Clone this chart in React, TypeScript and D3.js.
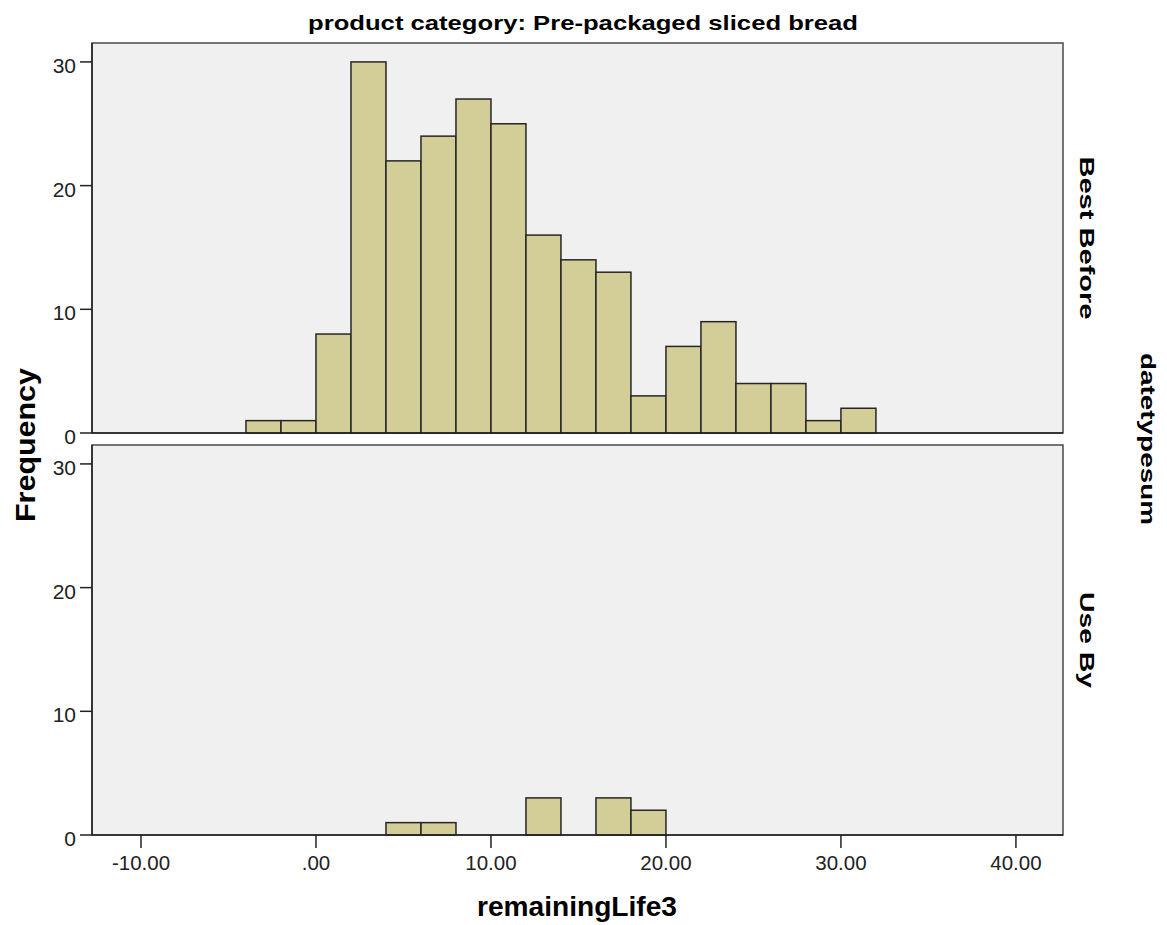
import React from "react";
import * as d3 from "d3";

// Histogram bins of remainingLife3 (lower edge of each 2-unit bin)
const binStarts = [-4, -2, 0, 2, 4, 6, 8, 10, 12, 14, 16, 18, 20, 22, 24, 26, 28, 30];
const binWidth = 2;

// Frequencies per bin for each datetypesum panel
const bestBeforeCounts = [1, 1, 8, 30, 22, 24, 27, 25, 16, 14, 13, 3, 7, 9, 4, 4, 1, 2];
const useByCounts = [0, 0, 0, 0, 1, 1, 0, 0, 3, 0, 3, 2, 0, 0, 0, 0, 0, 0];

const xTicks = [-10, 0, 10, 20, 30, 40];
const yTicks = [0, 10, 20, 30];

const panels = [
  { label: "Best Before", counts: bestBeforeCounts, top: 43, bottom: 433, labelLen: 163 },
  { label: "Use By", counts: useByCounts, top: 445, bottom: 835, labelLen: 96 },
];

const W = 1167;
const H = 925;
const LEFT = 92;
const RIGHT = 1063;

// SPSS-style labels: ".00" for zero, ASCII hyphen for negatives
const fmtX = (v: number) => (v === 0 ? ".00" : (v < 0 ? "-" : "") + Math.abs(v).toFixed(2));

export default function App() {
  const x = d3.scaleLinear().domain([-12.8, 42.69]).range([LEFT, RIGHT]);
  const font = "'Liberation Sans', Arial, sans-serif";

  return (
    <svg
      width={W}
      height={H}
      style={{ position: "absolute", left: 0, top: 0, background: "#fff" }}
      fontFamily={font}
    >
      <text x={308} y={30} fontSize={21} fontWeight="bold" textLength={550} lengthAdjust="spacingAndGlyphs">
        product category: Pre-packaged sliced bread
      </text>

      {panels.map((p, pi) => {
        const y = d3.scaleLinear().domain([0, 31.53]).range([p.bottom, p.top]);
        const mid = (p.top + p.bottom) / 2;
        return (
          <g key={pi}>
            <rect
              x={LEFT}
              y={p.top}
              width={RIGHT - LEFT}
              height={p.bottom - p.top}
              fill="#f0f0f0"
              stroke="#4a4a4a"
              strokeWidth={1.5}
            />
            {p.counts.map((c, i) =>
              c > 0 ? (
                <rect
                  key={i}
                  x={x(binStarts[i])}
                  y={y(c)}
                  width={x(binStarts[i] + binWidth) - x(binStarts[i])}
                  height={y(0) - y(c)}
                  fill="#d3ce97"
                  stroke="#262626"
                  strokeWidth={1.5}
                />
              ) : null
            )}
            {/* axis lines */}
            <line x1={LEFT} x2={LEFT} y1={p.top} y2={p.bottom} stroke="#222" strokeWidth={1.5} />
            <line x1={LEFT} x2={RIGHT} y1={p.bottom} y2={p.bottom} stroke="#222" strokeWidth={1.5} />
            {yTicks.map((t) => (
              <g key={t}>
                <line x1={LEFT - 12} x2={LEFT} y1={y(t)} y2={y(t)} stroke="#222" strokeWidth={1.5} />
                <text x={76} y={y(t) + 11} fontSize={21} textAnchor="end" fill="#222">
                  {t}
                </text>
              </g>
            ))}
            <text
              transform={`translate(1080,${mid}) rotate(90)`}
              fontSize={21}
              fontWeight="bold"
              textAnchor="middle"
              textLength={p.labelLen}
              lengthAdjust="spacingAndGlyphs"
            >
              {p.label}
            </text>
          </g>
        );
      })}

      {xTicks.map((t) => (
        <g key={t}>
          <line x1={x(t)} x2={x(t)} y1={835} y2={848} stroke="#222" strokeWidth={1.5} />
          <text x={x(t)} y={870} fontSize={20.5} textAnchor="middle" fill="#222">
            {fmtX(t)}
          </text>
        </g>
      ))}

      <text x={477} y={916} fontSize={28.5} fontWeight="bold" textLength={200} lengthAdjust="spacingAndGlyphs">
        remainingLife3
      </text>
      <text
        transform="translate(35,445) rotate(-90)"
        fontSize={28.5}
        fontWeight="bold"
        textAnchor="middle"
        textLength={154}
        lengthAdjust="spacingAndGlyphs"
      >
        Frequency
      </text>
      <text
        transform="translate(1141,439) rotate(90)"
        fontSize={21}
        fontWeight="bold"
        textAnchor="middle"
        textLength={172}
        lengthAdjust="spacingAndGlyphs"
      >
        datetypesum
      </text>
    </svg>
  );
}
